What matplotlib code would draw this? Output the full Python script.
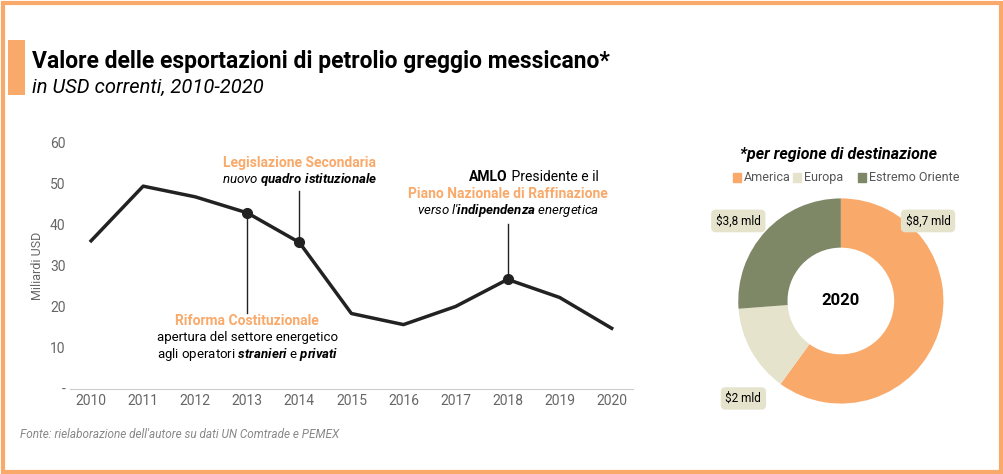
import matplotlib
matplotlib.use("Agg")
import matplotlib.pyplot as plt
from matplotlib.patches import Rectangle

years = [2010, 2011, 2012, 2013, 2014, 2015, 2016, 2017, 2018, 2019, 2020]
values = [36, 49.3, 46.7, 42.8, 35.6, 18.3, 15.6, 20, 26.6, 22.2, 14.7]
yticks = [0, 10, 20, 30, 40, 50, 60]
ytick_labels = ["-", "10", "20", "30", "40", "50", "60"]
regions = ["America", "Europa", "Estremo Oriente"]
region_vals = [8.7, 2, 3.8]
region_labels = ["$8,7 mld", "$2 mld", "$3,8 mld"]

ORANGE = "#F9A969"
BEIGE = "#E6E3CD"
GREEN = "#7E8766"
plt.rcParams['font.family'] = ['Roboto', 'DejaVu Sans']
plt.rcParams['mathtext.fontset'] = 'custom'
plt.rcParams['mathtext.rm'] = 'Roboto'
plt.rcParams['mathtext.it'] = 'Roboto:italic'
plt.rcParams['mathtext.bf'] = 'Roboto:italic:bold'

fig = plt.figure(figsize=(10.04, 4.74), dpi=100)
fig.patches.append(Rectangle((0.003, 0.004), 0.994, 0.99, transform=fig.transFigure,
                             fill=False, ec=ORANGE, lw=3))
fig.patches.append(Rectangle((0.008, 0.80), 0.017, 0.115, transform=fig.transFigure,
                             color=ORANGE, ec="none"))
fig.text(0.032, 0.87, "Valore delle esportazioni di petrolio greggio messicano*",
         fontsize=16.5, fontweight="bold", va="center")
fig.text(0.032, 0.815, "in USD correnti, 2010-2020", fontsize=14.5, style="italic", va="center")
fig.text(0.02, 0.075, "Fonte: rielaborazione dell'autore su dati UN Comtrade e PEMEX",
         fontsize=8.5, style="italic", color="#888888")

ax = fig.add_axes([0.07, 0.18, 0.56, 0.52])
ax.plot(years, values, color="#222222", lw=2.5)
for yr in [2013, 2014, 2018]:
    i = years.index(yr)
    ax.plot(yr, values[i], "o", color="#222222", ms=7)
ax.set_ylim(0, 60)
ax.set_xlim(2009.6, 2020.4)
ax.set_yticks(yticks, ytick_labels)
ax.set_xticks(years)
ax.tick_params(length=0, labelsize=10, colors="#666666")
for s in ["top", "right", "left"]:
    ax.spines[s].set_visible(False)
ax.spines["bottom"].set_color("#cccccc")
ax.set_ylabel("Miliardi USD", fontsize=9, color="#666666")

ax.plot([2013, 2013], [values[3], 18.5], color="#222222", lw=1)
ax.text(2013, 15.5, "Riforma Costituzionale", color=ORANGE, fontweight="bold", ha="center", fontsize=10)
ax.text(2013, 11.5, "apertura del settore energetico", ha="center", fontsize=9.5)
ax.text(2013, 7.5, "agli operatori $\\mathbf{stranieri}$ e $\\mathbf{privati}$", ha="center", fontsize=9.5)
ax.plot([2014, 2014], [values[4], 48], color="#222222", lw=1)
ax.text(2014, 54, "Legislazione Secondaria", color=ORANGE, fontweight="bold", ha="center", fontsize=10)
ax.text(2014, 50, "nuovo $\\mathbf{quadro\\ istituzionale}$", ha="center", fontsize=9.5, style="italic")
ax.plot([2018, 2018], [values[8], 40], color="#222222", lw=1)
ax.text(2018, 50.5, "AMLO", fontweight="bold", ha="right", fontsize=10)
ax.text(2018, 50.5, " Presidente e il", ha="left", fontsize=10)
ax.text(2018, 46.5, "Piano Nazionale di Raffinazione", color=ORANGE, fontweight="bold", ha="center", fontsize=10)
ax.text(2018, 42.5, "verso l'$\\mathbf{indipendenza}$ energetica", ha="center", fontsize=9.5, style="italic")

pax = fig.add_axes([0.72, 0.11, 0.235, 0.51])
pax.pie(region_vals, colors=[ORANGE, BEIGE, GREEN], startangle=90, counterclock=False,
        wedgeprops=dict(width=0.48, ec="white", lw=0))
pax.text(0, 0, "2020", ha="center", va="center", fontsize=12, fontweight="bold")
pos = [(0.85, 0.78), (-0.95, -0.95), (-1.0, 0.78)]
for (x, y), lab in zip(pos, region_labels):
    pax.text(x, y, lab, ha="center", va="center", fontsize=8.5,
             bbox=dict(boxstyle="round,pad=0.4", fc=BEIGE, ec="none"))
pax.set_xlim(-1.15, 1.15); pax.set_ylim(-1.05, 1.05)
fig.text(0.835, 0.665, "*per regione di destinazione", ha="center", fontsize=11.5, fontweight="bold", style="italic")
lx = [0.73, 0.79, 0.855]
for x, c, r in zip(lx, [ORANGE, BEIGE, GREEN], regions):
    fig.patches.append(Rectangle((x, 0.617), 0.008, 0.017, transform=fig.transFigure, color=c))
    fig.text(x + 0.011, 0.625, r, fontsize=9, color="#555555", va="center")

fig.savefig("out.png")
